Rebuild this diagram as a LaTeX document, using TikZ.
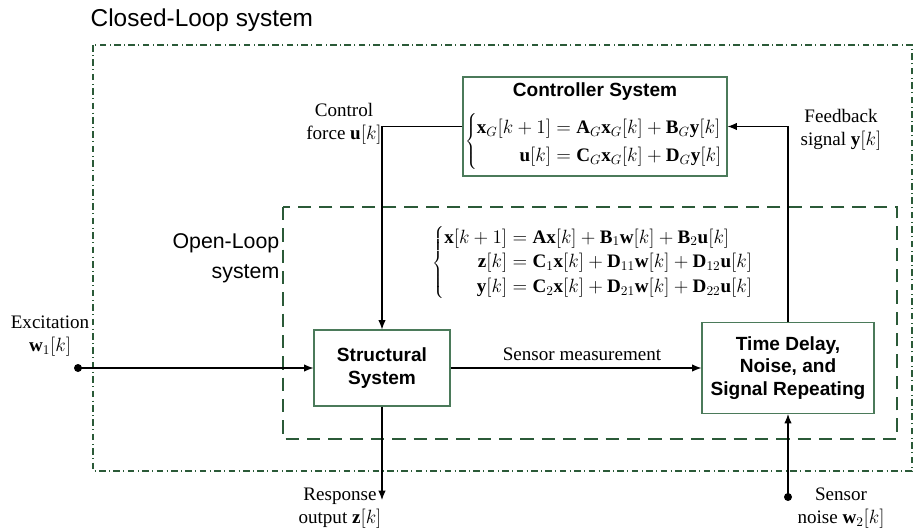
\documentclass[tikz,border=0pt]{standalone}
\usepackage{fontspec}
\setmainfont{Liberation Serif}
\setsansfont{Liberation Sans}
\setmathrm{Liberation Serif}
\usetikzlibrary{arrows.meta}
\definecolor{loopgreen}{HTML}{2B5A38}
\definecolor{boxgreen}{HTML}{4B7A5A}
\newcommand{\kbr}[1]{\bigl[#1\bigr]}
\begin{document}
\begin{tikzpicture}[x=0.75pt, y=-0.75pt,
    every node/.style={font=\fontsize{14.3}{17}\selectfont},
    block/.style={draw=boxgreen, line width=0.8pt, align=center, font=\fontsize{14.3}{17.5}\selectfont\sffamily\bfseries},
    sig/.style={-{Latex[length=7pt,width=5.5pt]}, line width=0.8pt},
    lbl/.style={align=center},
    title/.style={font=\fontsize{18.3}{22.5}\selectfont\sffamily}]
    \useasboundingbox (0,0) rectangle (921,531);
    \draw[loopgreen, line width=0.8pt, dash pattern=on 5pt off 2.5pt on 0.8pt off 2.5pt] (93,45) rectangle (912,471);
    \draw[loopgreen, line width=1.6pt, dash pattern=on 10pt off 6pt] (283,207) rectangle (897,439);
    \node[title, anchor=west] (cltitle) at (86,20) {Closed-Loop system};
    \node[title, align=right, anchor=east, font=\fontsize{16}{22.5}\selectfont\sffamily] (oltitle) at (284,258) {Open-Loop\\system};

    \node[draw=boxgreen, line width=0.8pt, minimum width=198pt, minimum height=74.25pt] (ctrl) at (595,126.5) {};
    \node[font=\fontsize{14.3}{17}\selectfont\sffamily\bfseries] (ctrltitle) at (595,92) {Controller System};
    \node (ctrleq) at (594,142) {$\left\{\renewcommand{\arraystretch}{1.25}\begin{array}{@{}r@{}l@{}}
        \mathbf{x}_G\kbr{k+1} & {}=\mathbf{A}_G\mathbf{x}_G\kbr{k}+\mathbf{B}_G\mathbf{y}\kbr{k}\\
        \mathbf{u}\kbr{k} & {}=\mathbf{C}_G\mathbf{x}_G\kbr{k}+\mathbf{D}_G\mathbf{y}\kbr{k}
        \end{array}\right.$};
    \node (oleq) at (593,263) {$\left\{\renewcommand{\arraystretch}{1.1}\begin{array}{@{}r@{}l@{}}
        \mathbf{x}\kbr{k+1} & {}=\mathbf{A}\mathbf{x}\kbr{k}+\mathbf{B}_1\mathbf{w}\kbr{k}+\mathbf{B}_2\mathbf{u}\kbr{k}\\
        \mathbf{z}\kbr{k} & {}=\mathbf{C}_1\mathbf{x}\kbr{k}+\mathbf{D}_{11}\mathbf{w}\kbr{k}+\mathbf{D}_{12}\mathbf{u}\kbr{k}\\
        \mathbf{y}\kbr{k} & {}=\mathbf{C}_2\mathbf{x}\kbr{k}+\mathbf{D}_{21}\mathbf{w}\kbr{k}+\mathbf{D}_{22}\mathbf{u}\kbr{k}
        \end{array}\right.$};

    \node[block, minimum width=102pt, minimum height=57pt] (struct) at (382,368) {Structural\\System};
    \node[block, minimum width=129pt, minimum height=68.25pt, font=\fontsize{14.3}{16.8}\selectfont\sffamily\bfseries] (delay) at (788,368) {Time Delay,\\Noise, and\\Signal Repeating};

    \coordinate (exc) at (78,368);
    \coordinate (resp) at (382,500);
    \coordinate (noise) at (788,497);
    \fill (exc) circle (3pt);
    \fill (noise) circle (3pt);

    \draw[sig] (exc) -- (struct.west);
    \draw[sig] (struct.east) -- (delay.west);
    \draw[sig] (ctrl.west) -| (struct.north);
    \draw[sig] (delay.north) |- (ctrl.east);
    \draw[sig] (struct.south) -- (resp);
    \draw[sig] (noise) -- (delay.south);

    \node[lbl] (exclbl) at (50,336) {Excitation\\$\mathbf{w}_1[k]$};
    \node[lbl] (sensorlbl) at (582,354) {Sensor measurement};
    \node[lbl] (forcelbl) at (344,124) {Control\\force $\mathbf{u}[k]$};
    \node[lbl] (feedlbl) at (841,130) {Feedback\\signal $\mathbf{y}[k]$};
    \node[lbl] (resplbl) at (340,508) {Response\\output $\mathbf{z}[k]$};
    \node[lbl] (noiselbl) at (841,508) {Sensor\\noise $\mathbf{w}_2[k]$};
\end{tikzpicture}
\end{document}
